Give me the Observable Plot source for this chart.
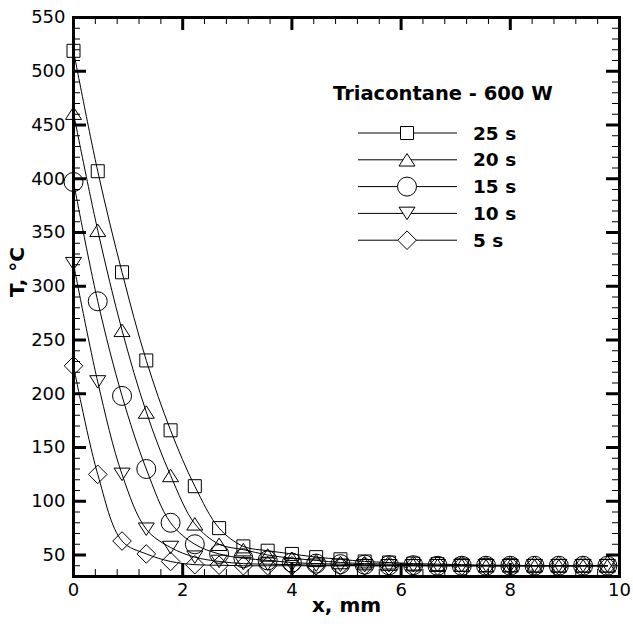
<!DOCTYPE html>
<html>
<head>
<meta charset="utf-8">
<script src="https://cdn.jsdelivr.net/npm/d3@7"></script>
<script src="https://cdn.jsdelivr.net/npm/@observablehq/plot@0.6"></script>
<style>
  html, body { margin: 0; padding: 0; background: white; }
  #chart svg { display: block; }
</style>
</head>
<body>
<div id="chart"></div>
<script>
// ---- data ----
const xMm = [0, 0.444, 0.889, 1.333, 1.778, 2.222, 2.667, 3.111, 3.556, 4.0, 4.444, 4.889,
             5.333, 5.778, 6.222, 6.667, 7.111, 7.556, 8.0, 8.444, 8.889, 9.333, 9.778];
const t25 = [519, 407, 313, 231, 166, 114, 75, 58, 54, 51, 48, 46, 44, 43, 42, 41.5, 41, 40.5, 40.5, 40, 40, 40, 40];
const t20 = [461, 352, 259, 183, 124, 79, 60, 55, 50, 47, 45, 43, 42, 41.5, 41, 40.5, 40.5, 40, 40, 40, 40, 40, 40];
const t15 = [397, 286, 198, 130, 80, 60, 51, 47, 45, 43, 42, 41.5, 41, 40.5, 40.5, 40, 40, 40, 40, 40, 40, 40, 40];
const t10 = [321, 211, 125, 74, 57, 48, 44, 42, 41.5, 41, 40.5, 40.5, 40, 40, 40, 40, 40, 40, 40, 40, 40, 40, 40];
const t05 = [226, 125, 63, 51, 44, 41, 40.5, 40, 40, 40, 40, 40, 40, 40, 40, 40, 40, 40, 40, 40, 40, 40, 40];
const seriesNames = ["25 s", "20 s", "15 s", "10 s", "5 s"];
const legendTitle = "Triacontane - 600 W";
const xTicks = [0, 2, 4, 6, 8, 10];
const yTicks = [50, 100, 150, 200, 250, 300, 350, 400, 450, 500, 550];
const xLabel = "x, mm";
const yLabel = "T, °C";

// ---- marker shapes (hollow, Tecplot-like) ----
const R = s => Math.sqrt(s / Math.PI);
const symSquare = {draw(c, s) { const r = R(s); c.rect(-r, -r, 2 * r, 2 * r); }};
const symTriUp = {draw(c, s) { const r = R(s), h = r * 0.78; c.moveTo(0, -h); c.lineTo(r, h); c.lineTo(-r, h); c.closePath(); }};
const symCircle = {draw(c, s) { const r = R(s); c.moveTo(r, 0); c.arc(0, 0, r, 0, 2 * Math.PI); c.closePath(); }};
const symTriDown = {draw(c, s) { const r = R(s), h = r * 0.78; c.moveTo(0, h); c.lineTo(r, -h); c.lineTo(-r, -h); c.closePath(); }};
const symDiamond = {draw(c, s) { const r = R(s); c.moveTo(0, -r); c.lineTo(r, 0); c.lineTo(0, r); c.lineTo(-r, 0); c.closePath(); }};

const seriesValues = [t25, t20, t15, t10, t05];
const seriesSym = [symSquare, symTriUp, symCircle, symTriDown, symDiamond];
const seriesR = [6.5, 8, 9.5, 8, 9.3];

const rows = [];
seriesNames.forEach((name, k) => seriesValues[k].forEach((v, i) => rows.push({series: name, x: xMm[i], y: v})));

// ---- layout ----
const W = 633, H = 631, mL = 73, mR = 14, mT = 17, mB = 55;
const frameH = H - mT - mB, frameW = W - mL - mR;
const xMinor = d3.range(0, 10.001, 0.4).filter(v => Math.abs(v / 2 - Math.round(v / 2)) > 1e-6);
const yMinor = d3.range(30, 550.001, 10).filter(v => v % 50 !== 0);

const marks = [];
seriesNames.forEach((name, k) => {
  const d = rows.filter(r => r.series === name);
  marks.push(Plot.line(d, {x: "x", y: "y", curve: "catmull-rom", stroke: "black", strokeWidth: 1}));
  marks.push(Plot.dot(d, {x: "x", y: "y", symbol: seriesSym[k], r: seriesR[k], stroke: "black", fill: "none", strokeWidth: 1}));
});
// inward ticks on all four sides
const minorLen = 7, majorLen = 13;
marks.push(
  Plot.tickX(xMinor, {insetTop: frameH - minorLen, stroke: "black", strokeWidth: 1}),
  Plot.tickX(xMinor, {insetBottom: frameH - minorLen, stroke: "black", strokeWidth: 1}),
  Plot.tickX(xTicks, {insetTop: frameH - majorLen, stroke: "black", strokeWidth: 3}),
  Plot.tickX(xTicks, {insetBottom: frameH - majorLen, stroke: "black", strokeWidth: 3}),
  Plot.tickY(yMinor, {insetRight: frameW - minorLen, stroke: "black", strokeWidth: 1}),
  Plot.tickY(yMinor, {insetLeft: frameW - minorLen, stroke: "black", strokeWidth: 1}),
  Plot.tickY(yTicks, {insetRight: frameW - majorLen, stroke: "black", strokeWidth: 3}),
  Plot.tickY(yTicks, {insetLeft: frameW - majorLen, stroke: "black", strokeWidth: 3}),
  Plot.axisX({ticks: xTicks, tickSize: 0, tickPadding: 7, label: null, fontSize: 18}),
  Plot.axisY({ticks: yTicks, tickSize: 0, tickPadding: 8, label: null, fontSize: 18}),
  Plot.frame({stroke: "black", strokeWidth: 3}),
  Plot.text([xLabel], {frameAnchor: "bottom", dy: 35, fontWeight: "bold", fontSize: 20}),
  Plot.text([yLabel], {frameAnchor: "left", dx: -56, rotate: -90, fontWeight: "bold", fontSize: 20})
);

const chart = Plot.plot({
  width: W, height: H,
  marginLeft: mL, marginRight: mR, marginTop: mT, marginBottom: mB,
  x: {domain: [0, 10]},
  y: {domain: [30, 550]},
  style: {fontFamily: "DejaVu Sans", color: "black", background: "white", overflow: "visible"},
  marks
});

// ---- legend (inside plot, top right) ----
const svg = d3.select(chart);
const g = svg.append("g").attr("font-family", "DejaVu Sans").attr("font-weight", "bold")
  .attr("text-anchor", "start");
g.append("text").attr("x", 333).attr("y", 93).attr("dy", "0.36em").attr("text-anchor", "start")
  .attr("font-size", 19.5).attr("fill", "black").text(legendTitle);
seriesNames.forEach((name, k) => {
  const y = 133 + k * 26.8;
  g.append("line").attr("x1", 358).attr("x2", 457).attr("y1", y).attr("y2", y)
    .attr("stroke", "black").attr("stroke-width", 1);
  g.append("path").attr("transform", `translate(407,${y})`)
    .attr("d", d3.symbol(seriesSym[k], Math.PI * seriesR[k] * seriesR[k])())
    .attr("fill", "white").attr("stroke", "black").attr("stroke-width", 1);
  g.append("text").attr("x", 473).attr("y", y).attr("dy", "0.36em").attr("text-anchor", "start")
    .attr("font-size", 18.5).attr("fill", "black").text(name);
});

document.getElementById("chart").appendChild(chart);
</script>
</body>
</html>
